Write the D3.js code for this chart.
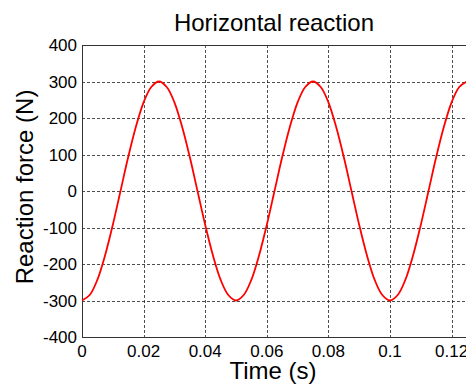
<!DOCTYPE html>
<html>
<head>
<meta charset="utf-8">
<script src="https://d3js.org/d3.v7.min.js"></script>
<style>
    body { margin: 0; background: #fff; }
    svg { display: block; font-family: "Liberation Sans", Arial, sans-serif; }
    .grid line { stroke: #222; stroke-width: 1px; stroke-dasharray: 3,2; opacity: 0.8; }
    .frame { stroke: #333; stroke-width: 1px; fill: none; shape-rendering: crispEdges; }
    .tick-label { font-size: 17px; fill: #000; }
</style>
</head>
<body>
<svg id="chart" width="466" height="388"></svg>
<script>
    // time samples (s), every 0.0025 s
    const times = [
        0, 0.0025, 0.005, 0.0075, 0.01, 0.0125, 0.015, 0.0175, 0.02, 0.0225,
        0.025, 0.0275, 0.03, 0.0325, 0.035, 0.0375, 0.04, 0.0425, 0.045, 0.0475,
        0.05, 0.0525, 0.055, 0.0575, 0.06, 0.0625, 0.065, 0.0675, 0.07, 0.0725,
        0.075, 0.0775, 0.08, 0.0825, 0.085, 0.0875, 0.09, 0.0925, 0.095, 0.0975,
        0.1, 0.1025, 0.105, 0.1075, 0.11, 0.1125, 0.115, 0.1175, 0.12, 0.1225, 0.125
    ];
    // reaction force (N)
    const forces = [
        -300, -285, -243, -176, -93, 0, 93, 176, 243, 285,
        300, 285, 243, 176, 93, 0, -93, -176, -243, -285,
        -300, -285, -243, -176, -93, 0, 93, 176, 243, 285,
        300, 285, 243, 176, 93, 0, -93, -176, -243, -285,
        -300, -285, -243, -176, -93, 0, 93, 176, 243, 285, 300
    ];
    const xTicks = [0, 0.02, 0.04, 0.06, 0.08, 0.1, 0.12];
    const yTicks = [-400, -300, -200, -100, 0, 100, 200, 300, 400];

    const svg = d3.select("#chart");
    const plotL = 82, plotT = 45, plotR = 467, plotB = 337;

    const x = d3.scaleLinear().domain([0, 0.125]).range([plotL, plotR]);
    const y = d3.scaleLinear().domain([-400, 400]).range([plotB, plotT]);

    // grid
    const grid = svg.append("g").attr("class", "grid");
    grid.selectAll("line.v").data(xTicks.filter(d => d > 0))
        .join("line").attr("class", "v")
        .attr("x1", d => Math.round(x(d)) + 0.5).attr("x2", d => Math.round(x(d)) + 0.5)
        .attr("y1", plotT).attr("y2", plotB);
    grid.selectAll("line.h").data(yTicks.filter(d => d > -400 && d < 400))
        .join("line").attr("class", "h")
        .attr("x1", plotL).attr("x2", plotR)
        .attr("y1", d => Math.round(y(d)) + 0.5).attr("y2", d => Math.round(y(d)) + 0.5);

    // frame (left, bottom, top)
    svg.append("path").attr("class", "frame")
        .attr("d", `M${plotR},${plotT}H${plotL}V${plotB}H${plotR}`);

    // curve
    const line = d3.line()
        .x((d, i) => x(times[i]))
        .y(d => y(d))
        .curve(d3.curveCatmullRom);
    svg.append("path").datum(forces)
        .attr("fill", "none")
        .attr("stroke", "#f00")
        .attr("stroke-width", 1.8)
        .attr("d", line);

    // tick labels
    const fmt = d => d === 0 ? "0" : String(d);
    svg.selectAll("text.xt").data(xTicks).join("text")
        .attr("class", "tick-label xt")
        .attr("x", d => x(d)).attr("y", 357)
        .attr("text-anchor", "middle")
        .text(fmt);
    svg.selectAll("text.yt").data(yTicks).join("text")
        .attr("class", "tick-label yt")
        .attr("x", 77).attr("y", d => y(d) + 6)
        .attr("text-anchor", "end")
        .text(d => d);

    // titles
    svg.append("text").attr("x", 274).attr("y", 31)
        .attr("text-anchor", "middle").style("font-size", "24px")
        .text("Horizontal reaction");
    svg.append("text").attr("x", 273).attr("y", 379)
        .attr("text-anchor", "middle").style("font-size", "24px")
        .text("Time (s)");
    svg.append("text")
        .attr("transform", "translate(33,187) rotate(-90)")
        .attr("text-anchor", "middle").style("font-size", "24px")
        .text("Reaction force (N)");
</script>
</body>
</html>
